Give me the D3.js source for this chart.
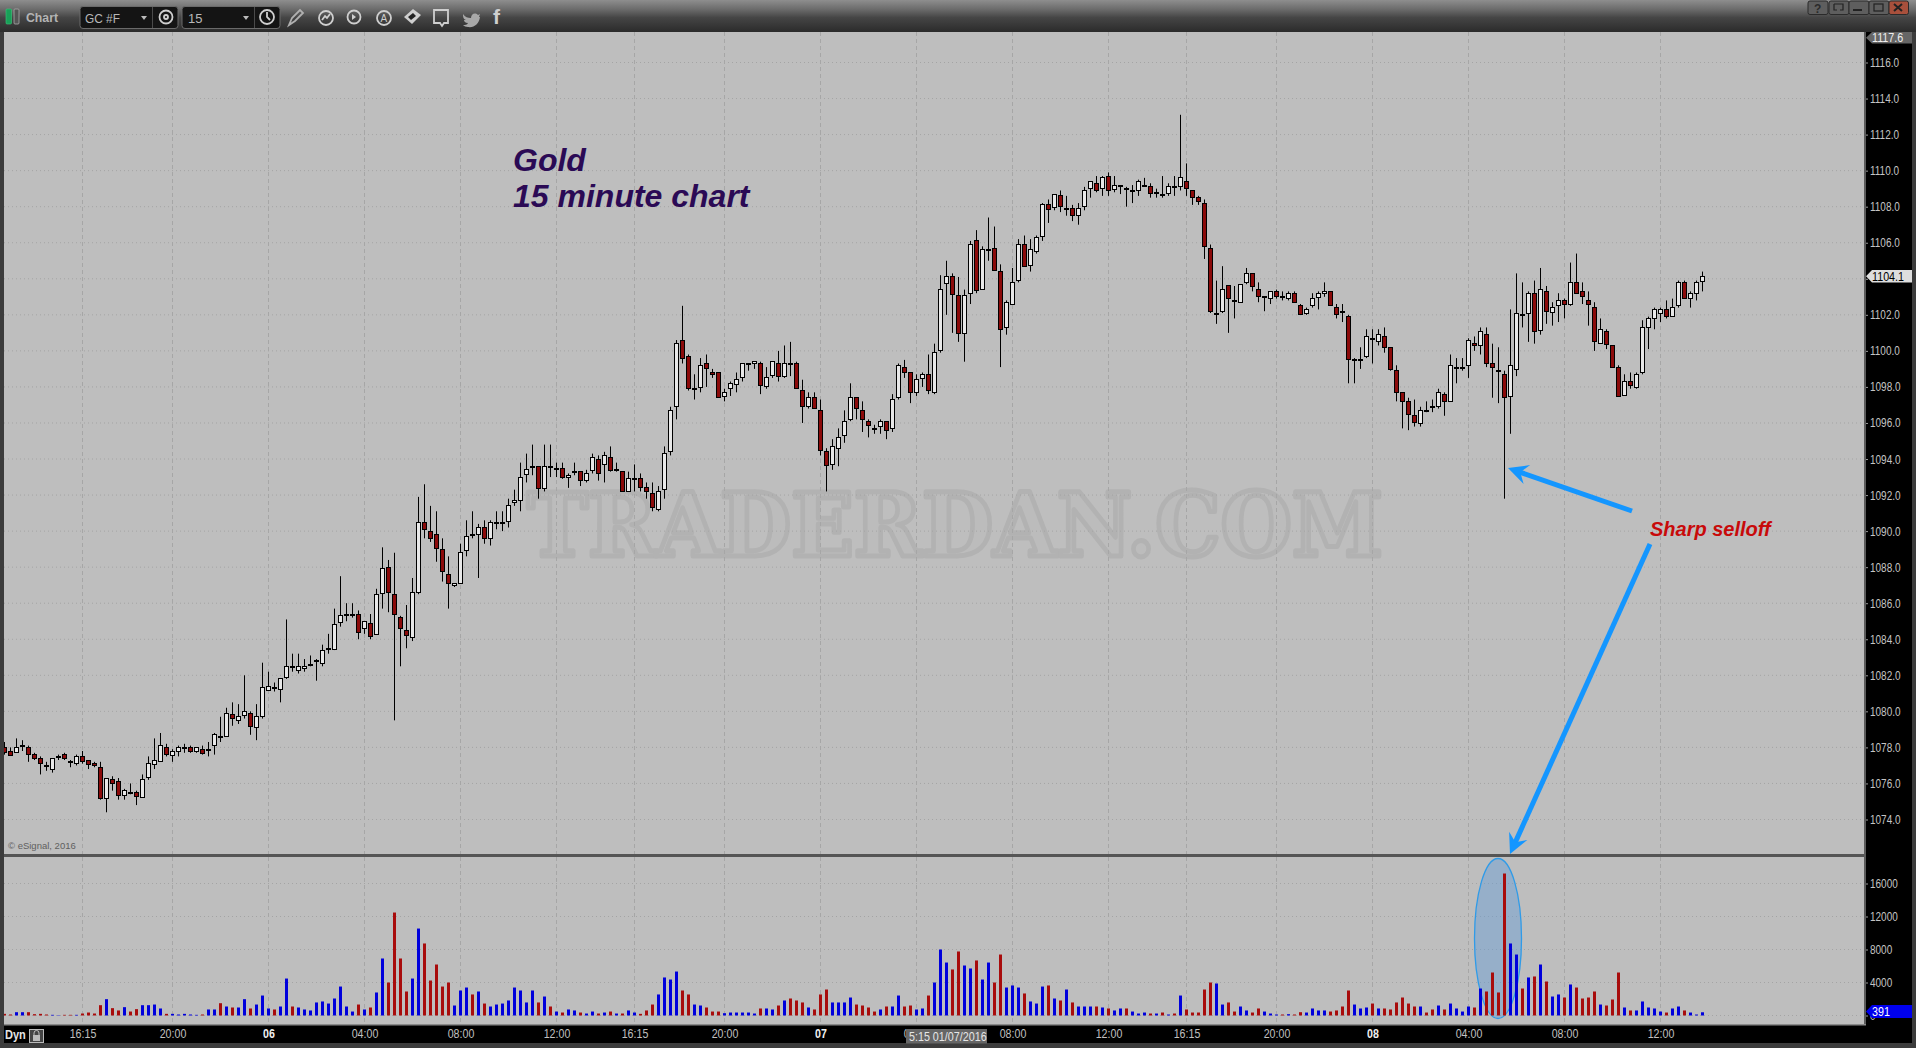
<!DOCTYPE html>
<html><head><meta charset="utf-8">
<script src="https://cdnjs.cloudflare.com/ajax/libs/d3/7.8.5/d3.min.js"></script>
<style>html,body{margin:0;padding:0;background:#3c3c3c;overflow:hidden}svg{display:block}text{font-family:"Liberation Sans",Arial,sans-serif}</style>
</head><body><svg id="c" width="1916" height="1048" xmlns="http://www.w3.org/2000/svg"></svg>
<script>
const opens=[1078.0,1077.8,1077.7,1078.1,1078.0,1077.6,1077.4,1077.0,1076.8,1077.5,
1077.6,1077.2,1077.1,1077.5,1077.3,1077.1,1076.9,1075.2,1076.2,1076.1,
1075.3,1075.5,1075.5,1075.2,1076.3,1077.1,1077.2,1078.0,1077.6,1077.8,
1078.0,1078.0,1077.8,1077.9,1077.9,1078.1,1078.6,1078.6,1079.8,1079.5,
1079.8,1079.9,1079.1,1079.7,1081.2,1081.3,1081.2,1081.9,1082.5,1082.3,
1082.4,1082.6,1082.8,1082.7,1083.5,1083.4,1084.9,1085.4,1085.4,1085.4,
1084.6,1084.9,1084.3,1086.5,1088.0,1086.5,1085.2,1084.5,1084.1,1086.6,
1090.5,1090.0,1089.8,1089.0,1087.6,1087.0,1087.1,1088.9,1089.8,1089.8,
1090.2,1089.6,1090.5,1090.5,1090.5,1091.6,1091.7,1093.1,1093.6,1093.6,
1092.4,1093.6,1093.5,1093.5,1093.0,1093.3,1093.3,1092.8,1093.4,1094.0,
1093.7,1094.1,1093.4,1093.3,1092.2,1092.9,1092.9,1092.4,1092.1,1091.2,
1092.3,1094.4,1096.9,1100.6,1099.7,1097.9,1098.0,1099.3,1098.8,1098.8,
1097.5,1097.9,1098.1,1098.5,1099.3,1099.3,1099.3,1098.0,1098.6,1099.3,
1098.6,1099.3,1099.3,1097.8,1096.9,1097.4,1096.7,1094.4,1093.7,1094.6,
1095.3,1096.2,1097.4,1096.7,1096.1,1095.7,1095.8,1096.1,1095.7,1097.4,
1099.1,1098.8,1097.7,1098.5,1098.7,1097.7,1100.0,1103.7,1104.1,1103.1,
1101.0,1103.2,1106.1,1103.4,1105.6,1105.7,1104.4,1101.3,1102.6,1103.9,
1105.9,1104.7,1105.5,1106.3,1108.1,1108.0,1108.6,1107.9,1107.9,1107.5,
1108.0,1109.0,1109.3,1109.0,1109.7,1109.0,1109.2,1109.0,1108.9,1108.9,
1109.2,1109.1,1108.8,1108.7,1108.7,1109.1,1109.1,1109.4,1108.9,1108.5,
1108.2,1105.7,1102.1,1102.2,1103.6,1102.8,1102.7,1103.8,1104.3,1103.4,
1103.0,1102.9,1103.3,1103.0,1102.9,1103.2,1102.5,1102.1,1102.5,1103.0,
1103.2,1103.3,1102.4,1102.2,1101.9,1099.5,1099.5,1099.7,1100.7,1100.5,
1100.8,1100.2,1098.9,1097.7,1097.2,1096.4,1096.0,1096.7,1096.9,1096.9,
1097.6,1097.2,1099.1,1099.1,1099.2,1100.4,1100.3,1100.9,1099.3,1098.9,
1098.7,1097.5,1099.0,1102.0,1102.1,1103.2,1101.1,1103.3,1102.1,1102.5,
1102.8,1102.6,1103.8,1103.3,1102.8,1102.4,1100.4,1101.1,1100.3,1099.1,
1097.5,1098.3,1098.0,1098.8,1101.3,1101.8,1102.1,1102.3,1101.9,1102.5,
1103.8,1102.9,1103.2,1103.8];
const closes=[1077.7,1077.6,1078.0,1078.1,1077.6,1077.4,1077.1,1077.0,1077.4,1077.5,
1077.4,1077.2,1077.5,1077.2,1077.1,1077.0,1075.2,1076.3,1076.0,1075.3,
1075.6,1075.5,1075.3,1076.2,1077.1,1077.3,1078.1,1077.6,1077.8,1078.0,
1078.0,1077.8,1078.0,1077.7,1077.9,1078.7,1078.6,1079.9,1079.6,1079.7,
1080.0,1079.2,1079.7,1081.3,1081.4,1081.3,1081.8,1082.5,1082.5,1082.5,
1082.5,1082.6,1082.8,1083.4,1083.5,1084.8,1085.3,1085.4,1085.4,1084.4,
1085.0,1084.2,1086.5,1087.9,1086.6,1085.4,1084.6,1084.2,1086.6,1090.5,
1090.1,1089.6,1089.0,1087.8,1087.1,1087.1,1088.8,1089.7,1089.8,1090.2,
1089.6,1090.5,1090.5,1090.5,1091.4,1091.7,1093.0,1093.4,1093.6,1092.4,
1093.6,1093.6,1093.5,1093.0,1093.1,1093.3,1092.8,1093.2,1094.1,1093.2,
1094.2,1093.4,1093.4,1092.2,1092.9,1092.9,1092.4,1092.2,1091.3,1092.2,
1094.3,1096.7,1100.4,1099.6,1097.9,1097.9,1099.2,1099.0,1098.7,1097.4,
1097.7,1098.2,1098.4,1099.3,1099.3,1099.4,1098.1,1098.5,1099.4,1098.6,
1099.3,1099.3,1097.9,1096.9,1097.4,1096.8,1094.5,1093.6,1094.7,1095.2,
1096.1,1097.4,1096.8,1096.2,1095.9,1095.7,1096.1,1095.6,1097.3,1099.2,
1098.8,1097.7,1098.4,1098.7,1097.8,1099.9,1103.4,1104.1,1103.1,1101.0,
1103.1,1105.9,1103.3,1105.6,1105.6,1104.5,1101.2,1102.7,1103.8,1105.9,
1104.7,1105.6,1106.3,1108.1,1107.8,1108.7,1108.0,1107.9,1107.5,1107.9,
1108.9,1109.4,1108.9,1109.6,1108.9,1109.2,1109.2,1109.0,1108.9,1109.4,
1109.2,1108.7,1108.8,1108.7,1109.1,1109.1,1109.6,1109.0,1108.5,1108.3,
1105.8,1102.2,1102.1,1103.4,1102.9,1102.8,1103.7,1104.3,1103.6,1103.0,
1103.0,1103.3,1103.0,1103.0,1103.2,1102.7,1102.0,1102.3,1102.9,1103.2,
1103.3,1102.5,1102.0,1102.2,1099.5,1099.5,1099.5,1100.8,1100.7,1100.9,
1100.2,1099.0,1097.7,1097.2,1096.5,1096.0,1096.7,1096.7,1096.9,1097.7,
1097.2,1099.2,1099.1,1099.1,1100.6,1100.3,1101.1,1099.3,1099.1,1098.9,
1097.4,1099.2,1102.1,1102.0,1103.2,1101.1,1103.4,1102.2,1102.4,1102.8,
1102.6,1103.8,1103.2,1103.0,1102.6,1100.5,1101.2,1100.4,1099.1,1097.5,
1098.3,1098.1,1098.7,1101.3,1101.8,1102.3,1102.3,1101.9,1102.4,1103.8,
1102.9,1103.2,1103.8,1104.1];
const highs=[1078.3,1078.0,1078.5,1078.4,1078.1,1077.7,1077.5,1077.2,1077.4,1077.6,
1077.7,1077.3,1077.6,1077.8,1077.3,1077.2,1077.2,1076.3,1076.4,1076.3,
1075.7,1076.0,1075.6,1076.5,1077.5,1078.5,1078.8,1078.2,1077.9,1078.1,
1078.2,1078.1,1078.0,1078.1,1078.3,1078.8,1079.7,1080.2,1080.5,1080.4,
1082.0,1080.0,1080.4,1082.7,1082.2,1081.6,1081.8,1085.1,1083.2,1083.2,
1082.9,1083.1,1082.9,1083.7,1084.3,1085.7,1087.5,1086.0,1086.0,1085.6,
1085.0,1085.4,1086.8,1089.1,1088.4,1088.8,1085.3,1085.9,1087.4,1091.9,
1092.6,1091.4,1091.1,1089.6,1088.6,1087.1,1089.3,1090.6,1091.1,1090.4,
1090.6,1090.6,1091.1,1091.1,1091.8,1092.3,1093.8,1094.3,1094.8,1093.6,
1094.8,1094.8,1093.8,1093.8,1093.2,1093.8,1093.3,1093.4,1094.3,1094.2,
1094.4,1094.7,1093.8,1093.3,1093.3,1093.7,1093.2,1092.7,1092.7,1092.5,
1094.7,1096.9,1100.6,1102.5,1099.8,1098.7,1099.6,1099.8,1099.0,1098.8,
1097.9,1098.3,1098.8,1099.3,1099.3,1099.4,1099.4,1099.1,1099.4,1100.0,
1100.3,1100.5,1099.4,1098.4,1097.7,1097.7,1097.3,1094.6,1095.1,1095.7,
1096.7,1098.2,1097.4,1097.2,1096.2,1095.9,1096.2,1096.1,1097.6,1099.3,
1099.5,1098.8,1098.7,1098.8,1099.8,1100.4,1104.2,1105.0,1104.3,1104.1,
1103.4,1106.1,1106.7,1105.8,1107.4,1106.9,1104.8,1102.8,1104.6,1106.2,
1106.4,1106.2,1106.4,1108.2,1108.4,1108.7,1108.9,1108.6,1108.1,1108.2,
1109.1,1109.4,1109.7,1109.7,1109.9,1109.7,1109.2,1109.1,1109.2,1109.5,
1109.6,1109.3,1109.0,1109.7,1109.3,1109.7,1113.1,1110.4,1108.9,1108.6,
1108.4,1105.9,1103.9,1104.7,1103.6,1103.6,1103.7,1104.6,1104.3,1103.8,
1103.0,1103.3,1103.4,1103.3,1103.3,1103.3,1102.6,1102.4,1103.2,1103.3,
1103.8,1103.3,1102.6,1102.6,1102.0,1099.6,1100.2,1101.2,1101.2,1101.2,
1101.3,1100.2,1099.2,1097.7,1097.4,1097.3,1096.9,1097.2,1097.3,1097.9,
1097.7,1099.8,1099.6,1099.6,1100.7,1100.8,1101.3,1101.3,1100.4,1100.2,
1098.9,1102.3,1104.3,1103.8,1103.3,1103.9,1104.6,1103.6,1102.7,1103.2,
1102.9,1104.9,1105.4,1103.8,1103.3,1102.7,1101.8,1101.2,1100.3,1099.2,
1098.7,1098.8,1098.8,1101.7,1101.9,1102.4,1102.4,1102.8,1102.9,1103.9,
1103.9,1103.3,1103.9,1104.4];
const lows=[1077.6,1077.6,1077.7,1077.8,1077.2,1077.3,1076.5,1076.7,1076.6,1077.3,
1077.3,1076.9,1077.0,1077.1,1076.8,1076.9,1075.1,1074.4,1075.6,1075.1,
1075.1,1075.4,1074.8,1075.2,1076.2,1076.8,1077.2,1077.5,1077.2,1077.5,
1077.7,1077.7,1077.7,1077.6,1077.5,1077.6,1078.3,1078.6,1079.2,1079.3,
1079.6,1078.7,1078.4,1079.6,1081.2,1081.1,1080.5,1081.8,1082.2,1082.1,
1082.2,1082.5,1081.7,1082.5,1083.2,1083.4,1084.7,1085.0,1085.2,1084.0,
1084.3,1084.0,1084.3,1085.7,1085.5,1079.5,1082.5,1083.5,1083.9,1086.5,
1089.6,1089.4,1088.3,1087.2,1085.7,1086.9,1087.1,1088.6,1089.6,1087.4,
1089.3,1089.2,1090.1,1090.0,1090.2,1091.4,1091.1,1092.7,1093.1,1091.8,
1092.2,1093.0,1093.0,1092.9,1092.4,1093.1,1092.5,1092.7,1093.2,1092.8,
1092.7,1093.3,1093.3,1092.2,1092.2,1092.2,1092.2,1091.8,1091.1,1091.1,
1091.8,1094.2,1096.2,1099.3,1097.8,1097.3,1097.7,1098.0,1098.5,1097.4,
1097.2,1097.5,1097.7,1098.3,1098.9,1099.0,1097.6,1097.9,1098.5,1098.3,
1098.5,1098.6,1097.9,1096.0,1096.8,1096.8,1094.2,1092.2,1093.4,1093.6,
1094.9,1096.1,1096.2,1095.5,1095.2,1095.4,1095.4,1095.1,1095.5,1097.3,
1098.5,1097.1,1097.5,1098.0,1097.6,1097.6,1099.9,1102.0,1101.0,1100.5,
1099.4,1102.6,1103.2,1103.4,1105.0,1104.5,1099.1,1100.9,1102.6,1103.8,
1104.7,1104.4,1105.4,1106.1,1107.1,1107.8,1107.7,1107.5,1107.2,1107.0,
1107.8,1108.5,1108.8,1108.6,1108.6,1108.8,1108.7,1108.0,1108.2,1108.6,
1109.1,1108.5,1108.5,1108.5,1108.6,1108.6,1108.9,1108.6,1108.1,1108.1,
1105.1,1102.1,1101.5,1102.1,1101.0,1101.8,1102.7,1103.7,1103.3,1102.7,
1102.2,1102.6,1102.9,1102.8,1102.8,1102.7,1102.0,1102.0,1102.4,1102.3,
1103.0,1102.5,1101.8,1101.6,1098.2,1098.2,1099.0,1099.6,1099.3,1100.3,
1099.9,1098.9,1097.2,1095.7,1095.6,1095.8,1095.8,1096.6,1096.6,1096.8,
1096.4,1097.2,1098.2,1098.9,1098.5,1100.0,1099.8,1099.1,1097.4,1097.1,
1091.8,1095.4,1098.6,1101.3,1100.5,1100.4,1100.9,1101.5,1101.4,1101.6,
1101.8,1102.5,1103.2,1102.6,1101.4,1100.0,1100.4,1100.1,1099.1,1097.5,
1097.5,1097.9,1097.9,1098.7,1100.1,1101.2,1101.6,1101.8,1101.9,1102.4,
1102.9,1102.4,1102.8,1103.3];
const volumes=[200,120,400,400,400,160,200,120,80,40,
80,80,80,240,360,240,1250,1980,890,610,
1010,480,770,1250,1250,1330,850,200,200,120,
200,120,80,120,730,730,1490,1090,970,970,
1980,850,1330,2420,850,730,1090,4480,1090,970,
730,610,1580,1700,1450,2060,3510,1090,480,1330,
730,970,2790,6910,4000,12480,6910,2910,4480,10540,
8730,4240,6180,3510,4000,1210,3030,3390,2550,2910,
1450,1090,1330,1450,1820,3390,3030,1580,3030,1580,
2300,1090,480,360,730,610,360,240,480,240,
360,480,240,240,610,360,200,610,1330,2550,
4610,4360,5330,3030,2550,1330,1210,970,480,480,
280,360,360,360,360,240,850,850,730,1210,
1820,2060,1820,1580,970,730,2550,3150,1580,1580,
1580,2180,1330,1210,970,480,730,1090,1090,2420,
1090,1210,730,850,2420,4000,8000,6420,5580,7760,
6060,5700,6670,4360,6420,4000,7390,3390,3640,3390,
2670,1700,1450,3510,3640,2060,1820,3150,1580,1090,
1090,1090,1090,970,850,610,850,850,480,240,
360,240,240,360,120,240,2420,730,360,360,
3150,4000,3880,1330,1580,480,1090,610,360,850,
480,240,120,120,160,120,400,360,850,610,
610,480,610,1090,3030,1330,850,970,1450,850,
850,730,1580,2180,1450,1090,1090,360,730,1210,
730,1450,850,480,1090,970,3270,2910,5210,2790,
17210,8730,7390,3270,4610,4730,6180,4120,2300,2550,
2180,3760,3390,2060,2180,2910,1330,1210,1940,5210,
970,610,610,1700,970,850,480,360,850,1090,
610,360,120,391];
const volumeSides=("rrbbrrrrbb"+"rrbrrrrbrr"+"brrbbbbrbb"+"bbbrbbrbrb"+"brbbbrbbrb"+"bbbbbbbbbr"+"brbbrrrrbb"+"rrrrrbbbrb"+"rbbbbbbbbr"+"brbrbbrbbr"+
"brbrbb"+"rrrbbbbrrbbrrr"+"bbbbbbrbbr"+"brrrbrrrbb"+"bbrrrrbrbb"+"rrbbrbbbrr"+"bbrbbrrbbb"+"rbbbrbrbrb"+"bbrbrbbrbb"+"brbrbrbrrr"+
"rrbbrrbbrr"+"bbbrbrrbbb"+"brrrrbbbrb"+"rrrrrrbrrb"+"rbbbbrbrrr"+"rbbrbrbrbb"+"rbrrrrbrrr"+"brbbbbbrbb"+"rbbb").split("");
const priceTicks=[1116,1114,1112,1110,1108,1106,1104,1102,1100,1098,1096,1094,1092,1090,1088,1086,1084,1082,1080,1078,1076,1074];
const volumeTicks=[16000,12000,8000,4000,0];
const timeTickIndex=[13,28,44,60,76,92,105,120,136,152,168,184,197,212,228,244,260,276];
const timeTickLabels=["16:15","20:00","06","04:00","08:00","12:00","16:15","20:00","07","04:00","08:00","12:00","16:15","20:00","08","04:00","08:00","12:00"];

const svg=d3.select("#c");
const x=d3.scaleLinear().domain([0,283]).range([4.5,1702.5]);
const yP=d3.scaleLinear().domain([1074,1116]).range([819.5,62.5]);
const yV=d3.scaleLinear().domain([0,16000]).range([1015.5,883.5]);
const L=4,R=1864,PT=32,PB=854,VT=857,VB=1024;

const defs=svg.append("defs");
const tg=defs.append("linearGradient").attr("id","tb").attr("x1",0).attr("x2",0).attr("y1",0).attr("y2",1);
[[0,"#8e8e8e"],[.3,"#6a6a6a"],[.55,"#454545"],[1,"#2b2b2b"]].forEach(s=>tg.append("stop").attr("offset",s[0]).attr("stop-color",s[1]));
defs.append("clipPath").attr("id","pc").append("rect").attr("x",L).attr("y",PT).attr("width",R-L).attr("height",PB-PT);
defs.append("clipPath").attr("id","vc").append("rect").attr("x",L).attr("y",VT).attr("width",R-L).attr("height",VB-VT);

// frame
svg.append("rect").attr("width",1916).attr("height",1048).attr("fill","#3c3c3c");
svg.append("rect").attr("width",1916).attr("height",32).attr("fill","url(#tb)");
svg.append("rect").attr("x",L).attr("y",PT).attr("width",R-L).attr("height",PB-PT).attr("fill","#bebebe");
svg.append("rect").attr("x",L).attr("y",VT).attr("width",R-L).attr("height",VB-VT).attr("fill","#bebebe");
svg.append("rect").attr("x",L).attr("y",PB).attr("width",R-L).attr("height",VT-PB).attr("fill","#555");
svg.append("rect").attr("x",R+2).attr("y",PT).attr("width",46).attr("height",VB-PT+19).attr("fill","#000");
svg.append("rect").attr("x",R).attr("y",PT).attr("width",2).attr("height",VB-PT).attr("fill","#5c5c5c");
svg.append("rect").attr("x",L).attr("y",VB+1).attr("width",R-L+2).attr("height",18).attr("fill","#000");
svg.append("rect").attr("x",L).attr("y",VB).attr("width",R-L+2).attr("height",1.5).attr("fill","#8a8a8a");

// watermark
svg.append("text").text("TRADERDAN.COM").attr("x",527).attr("y",556)
 .attr("textLength",856).attr("lengthAdjust","spacingAndGlyphs")
 .style("font-family","'DejaVu Serif',serif").style("font-weight","bold").style("font-size","88px")
 .attr("fill","#bcbcbc").attr("stroke","#b2b2b2").attr("stroke-width",5).attr("stroke-linejoin","round");

// grids
const gridG=svg.append("g").attr("fill","none");
gridG.selectAll(".hp").data(priceTicks).join("line").attr("x1",L).attr("x2",R).attr("y1",d=>yP(d)).attr("y2",d=>yP(d)).attr("stroke","#a4a4a4").attr("stroke-dasharray","1,3");
gridG.selectAll(".hv").data(volumeTicks,d=>d).join("line").attr("x1",L).attr("x2",R).attr("y1",d=>yV(d)).attr("y2",d=>yV(d)).attr("stroke","#a4a4a4").attr("stroke-dasharray","1,3");
gridG.selectAll(".vp").data(timeTickIndex,(d,i)=>"p"+i).join("line").attr("x1",d=>x(d)).attr("x2",d=>x(d)).attr("y1",PT).attr("y2",PB).attr("stroke","#a6a6a6").attr("stroke-dasharray","4,3");
gridG.selectAll(".vv").data(timeTickIndex,(d,i)=>"v"+i).join("line").attr("x1",d=>x(d)).attr("x2",d=>x(d)).attr("y1",VT).attr("y2",VB).attr("stroke","#a6a6a6").attr("stroke-dasharray","4,3");

// ellipse (under volume bars)
svg.append("ellipse").attr("cx",1498).attr("cy",938.5).attr("rx",23.5).attr("ry",80)
 .attr("fill","#5f9bd8").attr("fill-opacity",.42).attr("stroke","#2f9be8").attr("stroke-width",1.3);

// candles
const candles=d3.range(opens.length).map(i=>({i,o:opens[i],c:closes[i],h:highs[i],l:lows[i]}));
const cG=svg.append("g").attr("clip-path","url(#pc)");
cG.selectAll("line").data(candles).join("line").attr("x1",d=>x(d.i)).attr("x2",d=>x(d.i))
 .attr("y1",d=>yP(d.h)).attr("y2",d=>yP(d.l)).attr("stroke","#000").attr("stroke-width",1);
cG.selectAll("rect").data(candles).join("rect")
 .attr("x",d=>x(d.i)-2).attr("width",4)
 .attr("y",d=>Math.round(yP(Math.max(d.o,d.c))-.5)+.5)
 .attr("height",d=>Math.max(1,Math.round(Math.abs(yP(d.o)-yP(d.c)))))
 .attr("fill",d=>d.c<d.o?"#8b0a0a":(d.c===d.o?"#000":"#e8e8e8")).attr("stroke","#000").attr("stroke-width",1);

// volume
svg.append("g").attr("clip-path","url(#vc)").selectAll("rect").data(volumes).join("rect")
 .attr("x",(d,i)=>x(i)-1.5).attr("width",3).attr("y",d=>yV(d)).attr("height",d=>yV(0)-yV(d))
 .attr("fill",(d,i)=>volumeSides[i]==="r"?"#a80c0c":"#0000dc");

// axes
function styleAxis(g,col){g.select(".domain").remove();
 g.selectAll("line").attr("stroke","#9a9a9a");
 g.selectAll("text").attr("fill",col).style("font-size","12.5px").style("font-family","'Liberation Sans',Arial,sans-serif");}
// the live-price tag covers the 1104.0 label in the original
const ax=svg.append("g").attr("transform",`translate(${R+2},0)`).call(d3.axisRight(yP).tickValues(priceTicks).tickSize(2).tickPadding(4).tickFormat(d=>d===1104?"":d.toFixed(1)));
styleAxis(ax,"#c4c4c4");
ax.selectAll("text").attr("x",0).attr("transform","translate(4,0) scale(.8,1)");
const av=svg.append("g").attr("transform",`translate(${R+2},0)`).call(d3.axisRight(yV).tickValues(volumeTicks).tickSize(2).tickPadding(4).tickFormat(d3.format("d")));
styleAxis(av,"#c4c4c4");
av.selectAll("text").attr("x",0).attr("transform","translate(4,0) scale(.8,1)");
const at=svg.append("g").attr("transform",`translate(0,${VB+5})`).call(d3.axisBottom(x).tickValues(timeTickIndex).tickSize(0).tickPadding(0).tickFormat((d,i)=>timeTickLabels[i]));
styleAxis(at,"#c0c0c0");
at.selectAll("text").attr("y",0).attr("dy","0.71em")
 .attr("transform","scale(.85,1)")
 .attr("fill",(d,i)=>timeTickLabels[i].length===2?"#f0f0f0":"#c0c0c0")
 .style("font-weight",(d,i)=>timeTickLabels[i].length===2?"bold":"normal");

// value tags
function tag(y0,y1,fill,label,col){const t=(y0+y1)/2;
 svg.append("path").attr("d",`M1866,${t}L1872,${y0}H1912V${y1}H1872Z`).attr("fill",fill);
 svg.append("text").text(label).attr("transform",`translate(1872,${t+4.5}) scale(.86,1)`).attr("fill",col).style("font-size","12.5px");}
tag(32,43.5,"#666","1117.6","#eee");
tag(270,282.5,"#dedede","1104.1","#000");
tag(1005,1018,"#0000ee","391","#fff");

// crosshair date label
svg.append("rect").attr("x",906).attr("y",1029).attr("width",81).attr("height",14.5).attr("fill","#666");
svg.append("text").text("5:15 01/07/2016").attr("transform","translate(909,1040.5) scale(.86,1)").attr("fill","#e6e6e6").style("font-size","12.5px");

// annotations
const txt=(s,xx,yy,size,col)=>svg.append("text").text(s).attr("x",xx).attr("y",yy).attr("fill",col).style("font-size",size+"px").style("font-weight","bold").style("font-style","italic");
txt("Gold",513,171,32,"#2b0a55");
txt("15 minute chart",513,207,32,"#2b0a55");
txt("Sharp selloff",1650,536,20,"#c80a0a");
function arrow(a,b){const dx=b[0]-a[0],dy=b[1]-a[1],n=Math.hypot(dx,dy),ux=dx/n,uy=dy/n,px=-uy,py=ux;
 const c=d=>[b[0]-ux*d,b[1]-uy*d];
 svg.append("line").attr("x1",a[0]).attr("y1",a[1]).attr("x2",c(10)[0]).attr("y2",c(10)[1]).attr("stroke","#1496ff").attr("stroke-width",5);
 const h=c(20),m=c(13);
 svg.append("path").attr("d",`M${b}L${h[0]+px*10},${h[1]+py*10}L${m}L${h[0]-px*10},${h[1]-py*10}Z`).attr("fill","#1496ff");}
arrow([1632,511],[1508,468]);
arrow([1650,544],[1510,854]);
svg.append("text").text("© eSignal, 2016").attr("x",8).attr("y",849).attr("fill","#606060").style("font-size","9.5px");

// bottom-left Dyn
svg.append("text").text("Dyn").attr("transform","translate(5,1039) scale(.85,1)").attr("fill","#e4e4e4").style("font-size","13px").style("font-weight","bold");
svg.append("rect").attr("x",29.5).attr("y",1029.5).attr("width",14).attr("height",13).attr("fill","#444").attr("stroke","#bbb");
svg.append("rect").attr("x",33).attr("y",1035).attr("width",7).attr("height",6).attr("fill","#bbb");
svg.append("path").attr("d","M34,1035v-2a2.5,2.5 0 0 1 5,0v2").attr("fill","none").attr("stroke","#bbb");

// toolbar
const tb=svg.append("g");
tb.append("rect").attr("x",6).attr("y",9).attr("width",5.5).attr("height",15).attr("rx",1).attr("fill","#18a058").attr("stroke","#3cc87c").attr("stroke-width",.6);
tb.append("rect").attr("x",14).attr("y",9).attr("width",5).attr("height",15).attr("rx",1).attr("fill","#555").attr("stroke","#aaa").attr("stroke-width",.8);
tb.append("text").text("Chart").attr("x",26).attr("y",22).attr("fill","#b4b4b4").style("font-size","13px").style("font-weight","bold").attr("textLength",32).attr("lengthAdjust","spacingAndGlyphs");
[[80,98],[182,98]].forEach(b=>tb.append("rect").attr("x",b[0]).attr("y",6.5).attr("width",b[1]).attr("height",22).attr("rx",3).attr("fill","#141414").attr("stroke","#6a6a6a"));
[152,254].forEach(v=>tb.append("line").attr("x1",v+.5).attr("x2",v+.5).attr("y1",7).attr("y2",28).attr("stroke","#4a4a4a"));
tb.append("text").text("GC #F").attr("x",85).attr("y",23).attr("fill","#b8b8b8").style("font-size","13px").attr("textLength",35).attr("lengthAdjust","spacingAndGlyphs");
tb.append("text").text("15").attr("x",188).attr("y",23).attr("fill","#b8b8b8").style("font-size","13px");
[144,246].forEach(v=>tb.append("path").attr("d",`M${v-3},16h6l-3,4z`).attr("fill","#bbb"));
const ic=tb.append("g").attr("fill","none").attr("stroke","#cfcfcf").attr("stroke-width",1.8);
ic.append("circle").attr("cx",166).attr("cy",17).attr("r",6.5);
ic.append("circle").attr("cx",166).attr("cy",17).attr("r",2);
ic.append("circle").attr("cx",267).attr("cy",17).attr("r",7);
ic.append("path").attr("d","M267,12v5l3,3");
ic.append("path").attr("d","M289,25l3,-7l8,-8l3,3l-8,8z").attr("stroke","#b0b0b0");
ic.append("circle").attr("cx",326).attr("cy",18).attr("r",7);
ic.append("path").attr("d","M322,20l3,-4l2,2l3,-4");
ic.append("circle").attr("cx",354).attr("cy",17).attr("r",6.5);
ic.append("path").attr("d","M352,14v6l4,-3z").attr("fill","#cfcfcf").attr("stroke","none");
ic.append("circle").attr("cx",384).attr("cy",18).attr("r",7);
tb.append("text").text("A").attr("x",380.5).attr("y",22).attr("fill","#cfcfcf").style("font-size","10px");
tb.append("path").attr("d","M404,17l9,-8l8,6l-9,9z").attr("fill","#cfcfcf");
tb.append("path").attr("d","M408,17l5,-4l3,3l-5,4z").attr("fill","#222");
ic.append("path").attr("d","M434,10h14v13h-4l-2,3l-2,-3h-6z");
tb.append("path").attr("d","M463,14c2,3 5,4 8,4c0,-4 4,-6 7,-3l2,-1l-1,3l1,0c-1,7 -6,11 -12,10c-2,0 -4,-1 -5,-2c2,0 4,0 5,-2c-3,0 -4,-2 -4,-3h2c-3,-1 -3,-4 -3,-6z").attr("fill","#a8a8a8");
tb.append("text").text("f").attr("x",493).attr("y",24).attr("fill","#cfcfcf").style("font-size","21px").style("font-weight","bold");
// window buttons
[1808,1829,1849,1869,1889].forEach((bx,i)=>{tb.append("rect").attr("x",bx).attr("y",1).attr("width",i===4?19.5:20).attr("height",13.5).attr("rx",2).attr("fill",i===4?"#a8503c":"#5e5e5e").attr("stroke","#2a2a2a");});
tb.append("text").text("?").attr("x",1814).attr("y",12.5).attr("fill","#2b2b2b").style("font-size","12px").style("font-weight","bold");
tb.append("path").attr("d","M1834,4h9v6h-3M1834,4v6h3").attr("fill","none").attr("stroke","#222").attr("stroke-width",1.2);
tb.append("rect").attr("x",1853).attr("y",9).attr("width",9).attr("height",2).attr("fill","#222");
tb.append("rect").attr("x",1874).attr("y",4).attr("width",9).attr("height",7).attr("fill","none").attr("stroke","#222").attr("stroke-width",1.2);
tb.append("path").attr("d","M1894,4l8,7M1902,4l-8,7").attr("stroke","#222").attr("stroke-width",2);
</script></body></html>
